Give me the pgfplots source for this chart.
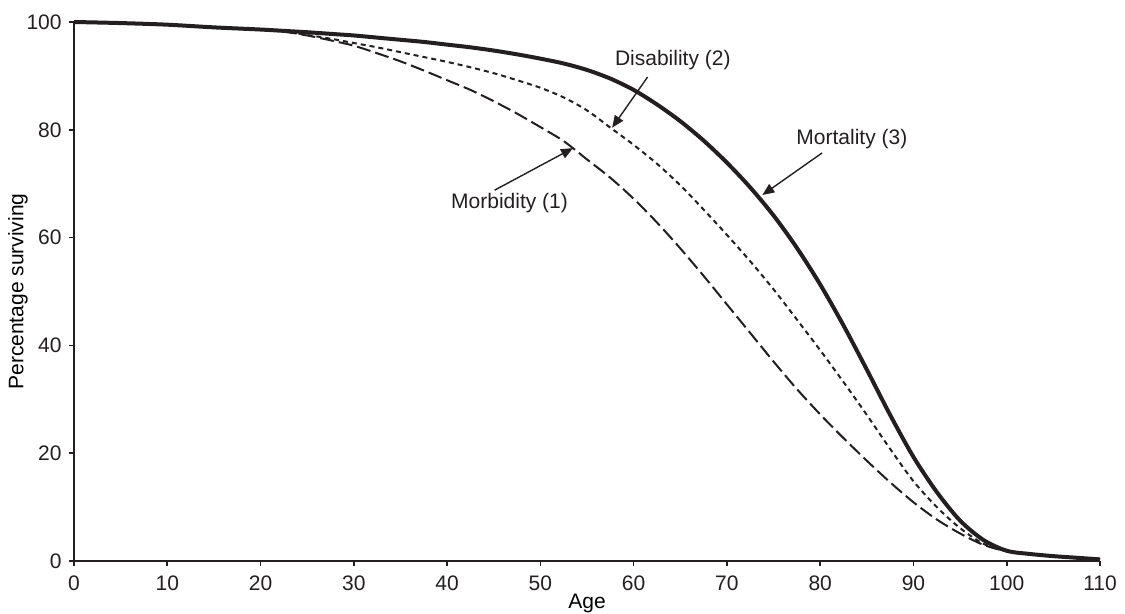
\documentclass[border=0pt]{standalone}
\usepackage{pgfplots}
\pgfplotsset{compat=1.18}
\usepackage{fontspec}
\setmainfont{Liberation Sans}
\usetikzlibrary{arrows.meta}
\definecolor{ink}{HTML}{231F20}
\pgfplotstableread{
x y
0 100
5 99.8
10 99.5
15 99.0
20 98.6
22.5 98.35
25 98.1
27.5 97.8
30 97.5
32.5 97.1
35 96.7
37.5 96.3
40 95.8
42.5 95.3
45 94.7
47.5 94.0
50 93.2
52.5 92.3
55 91.1
57.5 89.5
60 87.4
62.5 84.7
65 81.6
67.5 78.0
70 73.9
72.5 69.3
75 64.1
77.5 58.1
80 51.3
82.5 43.7
85 35.5
87.5 27.1
90 19.3
92.5 12.8
95 7.5
97.5 3.9
100 1.9
102.5 1.3
105 0.9
107.5 0.6
110 0.3
}\mortality
\pgfplotstableread{
x y
0 100
5 99.8
10 99.5
15 99.0
20 98.6
22.5 98.25
25 97.6
27.5 96.9
30 96.1
32.5 95.3
35 94.4
37.5 93.5
40 92.6
42.5 91.6
45 90.5
47.5 89.2
50 87.8
52.5 86.0
55 83.6
57.5 80.4
60 77.2
62.5 73.7
65 69.7
67.5 65.2
70 60.5
72.5 55.6
75 50.4
77.5 44.8
80 39.1
82.5 33.2
85 27.1
87.5 20.8
90 14.8
92.5 10.0
95 6.1
97.5 3.2
100 1.8
102.5 1.3
105 0.9
107.5 0.6
110 0.3
}\disability
\pgfplotstableread{
x y
0 100
5 99.8
10 99.5
15 99.0
20 98.6
22.5 98.2
25 97.5
27.5 96.6
30 95.6
32.5 94.2
35 92.7
37.5 91.0
40 89.2
42.5 87.4
45 85.3
47.5 83.0
50 80.5
52.5 77.9
55 74.5
57.5 71.1
60 67.2
62.5 62.8
65 58.0
67.5 52.9
70 47.6
72.5 42.3
75 37.0
77.5 31.9
80 27.2
82.5 22.8
85 18.6
87.5 14.6
90 10.9
92.5 7.7
95 5.1
97.5 3.0
100 1.8
102.5 1.3
105 0.9
107.5 0.6
110 0.3
}\morbidity
\begin{document}
\fontsize{10.5}{12.6}\selectfont
\begin{tikzpicture}
\useasboundingbox (-37pt,-26.5pt) rectangle (525.5pt,280.5pt);
\begin{axis}[
  at={(0,0)}, anchor=origin,
  scale only axis, width=513pt, height=269.5pt,
  xmin=0, xmax=110, ymin=0, ymax=100,
  axis x line*=bottom, axis y line*=left,
  axis line style={ink, line width=0.9pt, -},
  xtick={0,10,...,110}, ytick={0,20,...,100},
  tick align=outside, major tick length=2.5pt,
  tick style={ink, line width=0.8pt},
  every tick label/.append style={font=\fontsize{10.5}{12.6}\selectfont, text=ink},
  /pgf/number format/assume math mode=true,
  xlabel={Age}, ylabel={Percentage surviving},
  label style={font=\fontsize{10.5}{12.6}\selectfont, text=ink},
  every axis x label/.style={at={(axis description cs:0.5,0)}, anchor=center, yshift=-21pt},
  every axis y label/.style={at={(axis description cs:0,0.5)}, xshift=-28pt, rotate=90, anchor=center},
  xticklabel style={yshift=-1pt},
  clip=false,
]
\addplot[ink, line width=1pt, dash pattern=on 7pt off 2.5pt, smooth] table {\morbidity};
\addplot[ink, line width=1pt, dash pattern=on 2.5pt off 2pt, smooth] table {\disability};
\addplot[ink, line width=2pt, smooth] table {\mortality};
\node[text=ink, font=\fontsize{10.5}{12.6}\selectfont] at (axis cs:64.2,93) {Disability (2)};
\node[text=ink, font=\fontsize{10.5}{12.6}\selectfont] at (axis cs:46.7,66.4) {Morbidity (1)};
\node[text=ink, font=\fontsize{10.5}{12.6}\selectfont] at (axis cs:83.4,78.3) {Mortality (3)};
\draw[ink, line width=0.7pt, -{Triangle[length=6pt,width=5pt]}] (axis cs:61.5,89.8) -- (axis cs:57.7,80.4);
\draw[ink, line width=0.7pt, -{Triangle[length=6pt,width=5pt]}] (axis cs:45.1,68.8) -- (axis cs:53.5,76.6);
\draw[ink, line width=0.7pt, -{Triangle[length=6pt,width=5pt]}] (axis cs:80.2,75.7) -- (axis cs:73.8,67.9);
\end{axis}
\end{tikzpicture}
\end{document}
